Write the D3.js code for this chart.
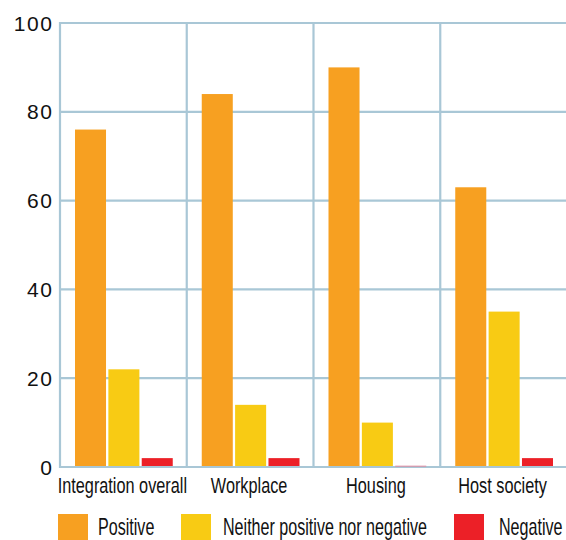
<!DOCTYPE html>
<html><head><meta charset="utf-8">
<script src="https://cdn.jsdelivr.net/npm/d3@7"></script>
<style>body{margin:0;background:#fff}svg{display:block}</style>
</head><body>
<script>
const categories = ["Integration overall", "Workplace", "Housing", "Host society"];
const seriesNames = ["Positive", "Neither positive nor negative", "Negative"];
const positive = [76, 84, 90, 63];
const neither = [22, 14, 10, 35];
const negative = [2, 2, 0.3, 2];
const yTicks = [0, 20, 40, 60, 80, 100];
const colors = ["#f7a021", "#f8cb14", "#ec2027"];

(function () {
const W = 566, H = 540;
const svg = d3.select("body").append("svg").attr("width", W).attr("height", H);
const mLeft = 60, mRight = 567, mTop = 23, mBottom = 467;
const font = "'Liberation Sans', Arial, sans-serif";

const x = d3.scaleBand().domain(categories).range([mLeft, mRight]).paddingInner(0).paddingOuter(0);
const x1 = d3.scaleBand().domain(seriesNames).range([15, x.bandwidth() - 14]).paddingInner(0.07).paddingOuter(0);
const y = d3.scaleLinear().domain([0, 100]).range([mBottom, mTop]);

const gridColor = "#a9c7d6";
svg.append("g").selectAll("line").data(yTicks).join("line")
  .attr("x1", mLeft).attr("x2", W).attr("y1", d => y(d)).attr("y2", d => y(d))
  .attr("stroke", gridColor).attr("stroke-width", 2.2);
svg.append("g").selectAll("line").data(categories).join("line")
  .attr("x1", d => x(d)).attr("x2", d => x(d)).attr("y1", mTop - 1).attr("y2", mBottom + 1)
  .attr("stroke", gridColor).attr("stroke-width", 2.2);

const data = categories.map((c, i) => ({c, vals: [positive[i], neither[i], negative[i]]}));
const g = svg.append("g").selectAll("g").data(data).join("g").attr("transform", d => `translate(${x(d.c)},0)`);
g.selectAll("rect").data(d => d.vals.map((v, j) => ({v, s: seriesNames[j], j}))).join("rect")
  .attr("x", d => x1(d.s)).attr("width", x1.bandwidth())
  .attr("y", d => y(d.v)).attr("height", d => Math.max(1, y(0) - y(d.v) - 1))
  .attr("fill", d => d.j === 2 && d.v < 1 ? "#e08aa0" : colors[d.j]);

svg.append("g").selectAll("text").data(yTicks).join("text")
  .attr("x", 53.6).attr("y", d => y(d) + 7.5).attr("text-anchor", "end")
  .attr("font-family", font).attr("font-size", 21).attr("letter-spacing", 1.6).attr("fill", "#111")
  .text(d => d);

svg.append("g").selectAll("text").data(categories).join("text")
  .attr("transform", d => `translate(${x(d) + x.bandwidth() / 2 - 1},492.5) scale(0.74,1)`)
  .attr("text-anchor", "middle")
  .attr("font-family", font).attr("font-size", 22).attr("fill", "#111")
  .text(d => d);

const legX = [58, 181, 454];
const legTextX = [98, 223, 499];
const lg = svg.append("g").selectAll("g").data(seriesNames).join("g");
lg.append("rect").attr("x", (d, i) => legX[i]).attr("y", 514).attr("width", 30).attr("height", 30)
  .attr("fill", (d, i) => colors[i]);
lg.append("text")
  .attr("transform", (d, i) => `translate(${legTextX[i]},534.5) scale(0.7,1)`)
  .attr("font-family", font).attr("font-size", 23).attr("fill", "#111").text(d => d);
})();
</script>
</body></html>
